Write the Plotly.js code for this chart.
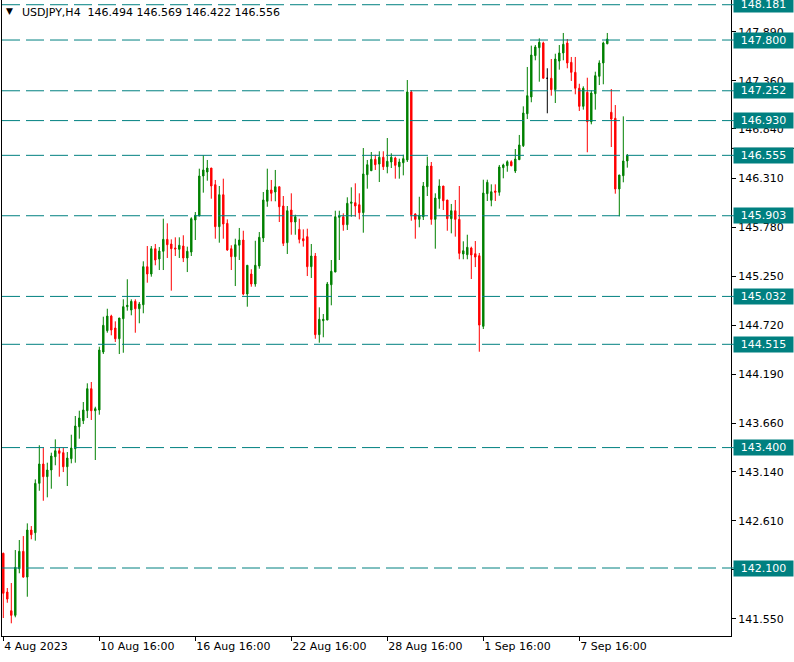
<!DOCTYPE html>
<html>
<head>
<meta charset="utf-8">
<script src="https://cdn.plot.ly/plotly-3.0.1.min.js"></script>
<style>
html,body{margin:0;padding:0;background:#fff;}
#chart{width:794px;height:662px;}
</style>
</head>
<body>
<div id="chart"></div>
<script>
// USDJPY H4 candles, first bar = 4 Aug 2023 16:00
const opens = [142.259,141.841,141.639,141.589,142.092,142.280,142.002,142.510,142.481,143.014,
143.223,143.086,143.158,143.301,143.366,143.345,143.193,143.280,143.388,143.625,
143.690,143.798,144.036,143.798,143.806,144.432,144.662,144.820,144.691,144.575,
144.791,144.921,144.885,144.979,144.899,144.942,145.353,145.274,145.547,145.436,
145.519,145.648,145.598,145.555,145.541,145.576,145.447,145.511,145.857,145.900,
146.332,146.375,146.418,146.238,145.785,146.130,145.821,145.547,145.461,145.585,
145.641,145.058,145.274,145.166,145.360,145.663,146.059,146.181,146.159,146.216,
146.008,145.612,145.965,145.835,145.756,145.655,145.677,145.353,145.468,144.619,
144.770,144.777,145.158,145.295,145.886,145.892,145.806,146.037,146.044,146.022,
145.936,146.346,146.389,146.512,146.461,146.534,146.432,146.483,146.526,146.432,
146.475,146.505,147.239,145.922,145.864,145.892,146.216,146.440,145.864,146.087,
146.224,146.073,145.871,145.957,145.864,145.490,145.482,145.555,145.493,145.471,
144.709,146.141,146.070,146.170,146.156,146.422,146.443,146.486,146.386,146.508,
146.659,147.004,147.185,147.631,147.717,147.768,147.387,147.387,147.264,147.573,
147.660,147.768,147.559,147.451,147.279,147.084,147.236,146.918,147.220,147.408,
147.552,147.760,147.020,146.955,146.192,146.335,146.494];
const highs = [142.265,141.884,141.938,142.294,142.402,142.445,142.582,142.553,143.057,143.425,
143.395,143.237,143.345,143.489,143.403,143.395,143.352,143.539,143.741,143.798,
143.892,144.094,144.108,143.841,144.489,144.813,144.899,144.834,144.763,144.799,
145.001,145.217,145.001,145.001,144.972,145.411,145.576,145.576,145.598,145.565,
145.871,145.821,145.648,145.670,145.670,145.692,145.569,145.886,145.943,146.411,
146.555,146.505,146.418,146.289,146.224,146.303,145.864,145.584,145.655,145.771,
145.741,145.368,145.325,145.633,145.727,146.159,146.411,146.289,146.397,146.216,
146.116,146.008,146.145,145.914,145.871,145.756,145.763,145.598,145.501,144.914,
144.842,145.188,145.425,145.957,145.957,145.929,146.102,146.210,146.253,146.145,
146.634,146.505,146.591,146.562,146.599,146.599,146.742,146.577,146.540,146.519,
146.562,147.368,147.260,145.929,146.108,146.267,146.540,146.483,146.145,146.296,
146.224,146.073,146.030,146.073,146.224,145.627,145.698,145.569,145.630,145.501,
146.292,146.292,146.242,146.242,146.451,146.465,146.501,146.501,146.623,146.775,
147.084,147.509,147.739,147.746,147.818,147.782,147.495,147.595,147.652,147.746,
147.876,147.811,147.617,147.617,147.328,147.300,147.393,147.257,147.458,147.581,
147.782,147.876,147.271,147.098,146.343,146.976,146.569];
const lows = [141.560,141.725,141.503,141.568,142.043,141.995,141.790,142.410,142.395,142.934,
142.826,142.863,142.956,143.209,143.086,143.136,142.985,143.230,143.237,143.496,
143.654,143.719,143.698,143.266,143.755,144.410,144.640,144.612,144.540,144.410,
144.424,144.878,144.828,144.640,144.742,144.850,145.180,145.245,145.368,145.317,
145.317,145.447,145.094,145.468,145.447,145.403,145.295,145.468,145.641,145.900,
146.152,146.281,146.087,145.655,145.612,145.655,145.525,145.317,145.144,145.425,
145.044,144.921,145.137,145.137,145.331,145.619,146.000,146.059,146.059,145.835,
145.576,145.490,145.698,145.698,145.605,145.569,145.252,145.231,144.575,144.532,
144.591,144.777,144.936,145.295,145.425,145.741,145.749,145.892,145.892,145.864,
145.720,146.195,146.389,146.397,146.267,146.397,146.361,146.418,146.303,146.303,
146.339,146.483,145.849,145.655,145.778,145.857,146.116,145.806,145.547,145.979,
145.965,145.741,145.713,145.677,145.433,145.433,145.433,145.220,145.349,144.435,
144.680,146.062,146.005,146.062,146.119,146.307,146.378,146.437,146.364,146.508,
146.645,146.947,147.128,147.581,147.350,147.387,147.009,147.199,147.120,147.480,
147.581,147.495,147.358,147.214,147.034,147.048,146.588,146.890,147.048,147.314,
147.322,147.754,146.645,146.141,145.897,146.264,146.422];
const closes = [141.827,141.765,141.589,142.107,142.280,142.002,142.510,142.459,143.014,143.223,
143.086,143.158,143.309,143.366,143.338,143.193,143.287,143.395,143.633,143.719,
143.806,144.036,143.798,143.820,144.453,144.720,144.820,144.669,144.575,144.799,
144.921,144.936,144.979,144.899,144.950,145.353,145.274,145.547,145.425,145.522,
145.648,145.590,145.547,145.544,145.584,145.447,145.519,145.871,145.908,146.332,
146.397,146.418,146.224,145.785,146.130,145.814,145.533,145.461,145.590,145.641,
145.058,145.368,145.166,145.368,145.670,146.073,146.181,146.145,146.216,146.000,
145.605,145.957,145.835,145.892,145.648,145.633,145.353,145.468,144.619,144.785,
144.785,145.166,145.303,145.892,145.900,145.806,146.037,146.051,146.008,145.936,
146.354,146.454,146.512,146.454,146.534,146.432,146.491,146.534,146.447,146.483,
146.519,147.239,145.914,145.864,145.908,146.224,146.440,145.864,146.094,146.224,
146.065,145.871,145.957,145.864,145.497,145.525,145.562,145.479,145.457,144.723,
146.148,146.264,146.162,146.156,146.429,146.451,146.486,146.443,146.515,146.667,
147.012,147.199,147.638,147.725,147.775,147.387,147.387,147.264,147.595,147.660,
147.754,147.552,147.451,147.279,147.084,147.279,146.918,147.228,147.415,147.552,
147.768,147.811,146.947,146.192,146.343,146.494,146.556];

const levels = [148.181,147.800,147.252,146.930,146.555,145.903,145.032,144.515,143.400,142.100];
const yTicks = [147.890,147.360,146.840,146.310,145.780,145.250,144.720,144.190,143.660,143.140,142.610,142.080,141.550];
const xTickIdx = [0,24,48,72,96,120,144];
const xTickLabels = ["4 Aug 2023","10 Aug 16:00","16 Aug 16:00","22 Aug 16:00","28 Aug 16:00","1 Sep 16:00","7 Sep 16:00"];
const symbol = "USDJPY,H4";

const TEAL = "#008080";
const FONT = "DejaVu Sans";

const idx = opens.map((_, i) => i);
const normal = idx.filter(i => opens[i] !== closes[i]);
const dojis = idx.filter(i => opens[i] === closes[i]);
const pick = (arr, set) => set.map(i => arr[i]);

const mainTrace = {
  type: "candlestick",
  x: normal, open: pick(opens, normal), high: pick(highs, normal),
  low: pick(lows, normal), close: pick(closes, normal),
  increasing: {line: {color: "#008000", width: 1}, fillcolor: "#008000"},
  decreasing: {line: {color: "#ff0000", width: 1}, fillcolor: "#ff0000"},
  whiskerwidth: 0, hoverinfo: "skip", showlegend: false
};
const dojiTrace = {
  type: "candlestick",
  x: dojis, open: pick(opens, dojis), high: pick(highs, dojis),
  low: pick(lows, dojis), close: pick(closes, dojis),
  increasing: {line: {color: "#000000", width: 1}, fillcolor: "#000000"},
  decreasing: {line: {color: "#000000", width: 1}, fillcolor: "#000000"},
  whiskerwidth: 0, hoverinfo: "skip", showlegend: false
};

const shapes = [];
const annotations = [];
levels.forEach(v => {
  shapes.push({type: "line", xref: "paper", yref: "y", x0: 0, x1: 1, y0: v, y1: v,
    line: {color: TEAL, width: 1, dash: "18px,6px"}, layer: "above"});
  shapes.push({type: "line", xref: "paper", yref: "y", x0: 1, x1: 1.004, y0: v, y1: v,
    line: {color: TEAL, width: 1}});
  annotations.push({xref: "paper", yref: "y", x: 1, y: v, xanchor: "left", yanchor: "middle",
    xshift: 2, text: v.toFixed(3), showarrow: false, bgcolor: TEAL, borderpad: 1,
    width: 57, align: "center", font: {family: FONT, size: 11, color: "#ffffff"}});
});
// current price marker line on the axis
shapes.push({type: "line", xref: "paper", yref: "y", x0: 1, x1: 1.09, y0: 146.63, y1: 146.63,
  line: {color: "#000000", width: 1}});

const last = opens.length - 1;
annotations.push({xref: "paper", yref: "paper", x: 0.003, y: 1, xanchor: "left", yanchor: "top",
  yshift: -4, text: "▼", showarrow: false, font: {family: FONT, size: 9, color: "#000000"}});
annotations.push({xref: "paper", yref: "paper", x: 0.0245, y: 1, xanchor: "left", yanchor: "top",
  yshift: -4, showarrow: false,
  text: symbol + "\u00a0\u00a0" + [opens[last], highs[last], lows[last], closes[last]].map(v => v.toFixed(3)).join(" "),
  font: {family: FONT, size: 11, color: "#000000"}});

const layout = {
  width: 794, height: 662,
  margin: {l: 2, r: 63, t: 0, b: 26},
  paper_bgcolor: "#ffffff", plot_bgcolor: "#ffffff",
  showlegend: false,
  boxgap: 0.5,
  xaxis: {
    range: [-0.325, 181.925], rangeslider: {visible: false},
    tickmode: "array", tickvals: xTickIdx, ticktext: xTickLabels,
    ticks: "outside", ticklen: 4, tickcolor: "#000000",
    ticklabelposition: "outside right",
    showline: true, linecolor: "#000000", linewidth: 1,
    showgrid: false, zeroline: false,
    tickfont: {family: FONT, size: 11, color: "#000000"}
  },
  yaxis: {
    side: "right", range: [141.366, 148.232],
    tickmode: "array", tickvals: yTicks, ticktext: yTicks.map(v => v.toFixed(3)),
    ticks: "outside", ticklen: 4, tickcolor: "#000000",
    showline: true, mirror: true, linecolor: "#000000", linewidth: 1,
    showgrid: false, zeroline: false,
    tickfont: {family: FONT, size: 11, color: "#000000"}
  },
  shapes: shapes,
  annotations: annotations
};

Plotly.newPlot("chart", [mainTrace, dojiTrace], layout, {staticPlot: true, displayModeBar: false});
</script>
</body>
</html>
